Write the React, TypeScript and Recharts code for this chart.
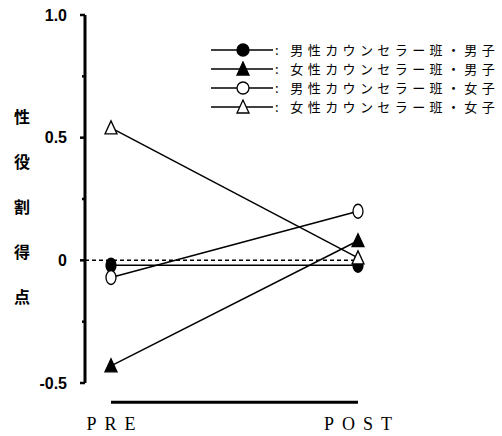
import { LineChart, Line, XAxis, YAxis, ReferenceLine } from "recharts";

// 性役割得点 (PRE / POST)
const phases = ["PRE", "POST"];
const maleCounselorBoys = [-0.02, -0.02];
const femaleCounselorBoys = [-0.43, 0.08];
const maleCounselorGirls = [-0.07, 0.2];
const femaleCounselorGirls = [0.54, 0.01];

const yTicks = [-0.5, -0.25, 0, 0.25, 0.5, 0.75, 1];
const yTickLabels: Record<string, string> = { "-0.5": "-0.5", "0": "0", "0.5": "0.5", "1": "1.0" };
const yTitle = ["性", "役", "割", "得", "点"];

const series = [
  { key: "mb", name: "男性カウンセラー班・男子", shape: "circle", filled: true, values: maleCounselorBoys },
  { key: "fb", name: "女性カウンセラー班・男子", shape: "triangle", filled: true, values: femaleCounselorBoys },
  { key: "mg", name: "男性カウンセラー班・女子", shape: "circle", filled: false, values: maleCounselorGirls },
  { key: "fg", name: "女性カウンセラー班・女子", shape: "triangle", filled: false, values: femaleCounselorGirls },
];

const data = phases.map((p, i) => {
  const row: Record<string, any> = { phase: p };
  series.forEach((s) => (row[s.key] = s.values[i]));
  return row;
});

const JP = "'Noto Sans CJK JP', 'Noto Sans', sans-serif";

function Marker({ cx, cy, shape, filled, round }: any) {
  const fill = filled ? "#000" : "#fff";
  if (shape === "circle") {
    return (
      <ellipse cx={cx} cy={cy} rx={round ? 6 : 5} ry={round ? 6 : 7} fill={fill} stroke="#000" strokeWidth={1.3} />
    );
  }
  return (
    <path
      d={`M${cx},${cy - 7} L${cx + 6},${cy + 6} L${cx - 6},${cy + 6} Z`}
      fill={fill}
      stroke="#000"
      strokeWidth={1.3}
    />
  );
}

const YTick = ({ x, y, payload }: any) => {
  const label = yTickLabels[String(payload.value)];
  const len = label ? 5 : 3;
  return (
    <g>
      <line x1={x - len} x2={x} y1={y} y2={y} stroke="#000" strokeWidth={2.5} />
      {label && (
        <text
          x={x - 18}
          y={y}
          dy="0.36em"
          textAnchor="end"
          fontFamily="'Liberation Sans', Arial, sans-serif"
          fontWeight="bold"
          fontSize={16}
          fill="#000"
        >
          {label}
        </text>
      )}
    </g>
  );
};

const XTick = ({ x, y, payload }: any) => (
  <text
    x={x + 4}
    y={y + 47}
    textAnchor="middle"
    fontFamily="'Liberation Serif', 'DejaVu Serif', serif"
    fontSize={18}
    letterSpacing={8}
    fill="#000"
  >
    {payload.value}
  </text>
);

const YTitle = () => (
  <g>
    {yTitle.map((c, i) => (
      <text
        key={c}
        x={22}
        y={117 + i * 45}
        dy="0.36em"
        textAnchor="middle"
        fontFamily={JP}
        fontWeight={700}
        fontSize={16}
        fill="#000"
      >
        {c}
      </text>
    ))}
  </g>
);

const LegendBox = () => (
  <div
    style={{
      position: "absolute",
      left: 211,
      top: 41,
      fontFamily: JP,
      fontSize: 13,
      color: "#000",
    }}
  >
    {series.map((s) => (
      <div key={s.key} style={{ display: "flex", alignItems: "center", height: 18.9, whiteSpace: "nowrap" }}>
        <svg width={64} height={16} style={{ display: "block" }}>
          <line x1={0} x2={62} y1={8} y2={8} stroke="#000" strokeWidth={1.4} />
          <Marker cx={32} cy={8} shape={s.shape} filled={s.filled} round />
        </svg>
        <span style={{ lineHeight: "18px", letterSpacing: 4.4 }}>: {s.name}</span>
      </div>
    ))}
  </div>
);

export default function App() {
  return (
    <div style={{ position: "absolute", left: 0, top: 0, width: 502, height: 436, background: "#fff" }}>
      <LineChart width={502} height={436} data={data} margin={{ top: 15, right: 140, bottom: 13, left: 0 }}>
        <XAxis
          dataKey="phase"
          axisLine={false}
          tickLine={false}
          tickSize={0}
          tickMargin={0}
          height={40}
          padding={{ left: 26, right: 4 }}
          tick={<XTick />}
          interval={0}
        />
        <YAxis
          type="number"
          domain={[-0.5, 1]}
          ticks={yTicks}
          width={85}
          axisLine={{ stroke: "#000", strokeWidth: 3 }}
          tickLine={false}
          tickSize={0}
          tickMargin={0}
          tick={<YTick />}
          interval={0}
          label={<YTitle />}
        />
        <ReferenceLine y={0} stroke="#000" strokeWidth={1.5} strokeDasharray="4 3" />
        <ReferenceLine
          segment={[
            { x: "PRE", y: -0.578 },
            { x: "POST", y: -0.578 },
          ]}
          stroke="#000"
          strokeWidth={3}
          ifOverflow="visible"
        />
        {series.map((s) => (
          <Line
            key={s.key}
            dataKey={s.key}
            name={s.name}
            type="linear"
            stroke="#000"
            strokeWidth={1.5}
            isAnimationActive={false}
            dot={(p: any) => (
              <Marker key={`${s.key}-${p.index}`} cx={p.cx} cy={p.cy} shape={s.shape} filled={s.filled} />
            )}
            activeDot={false}
          />
        ))}
      </LineChart>
      <LegendBox />
    </div>
  );
}
